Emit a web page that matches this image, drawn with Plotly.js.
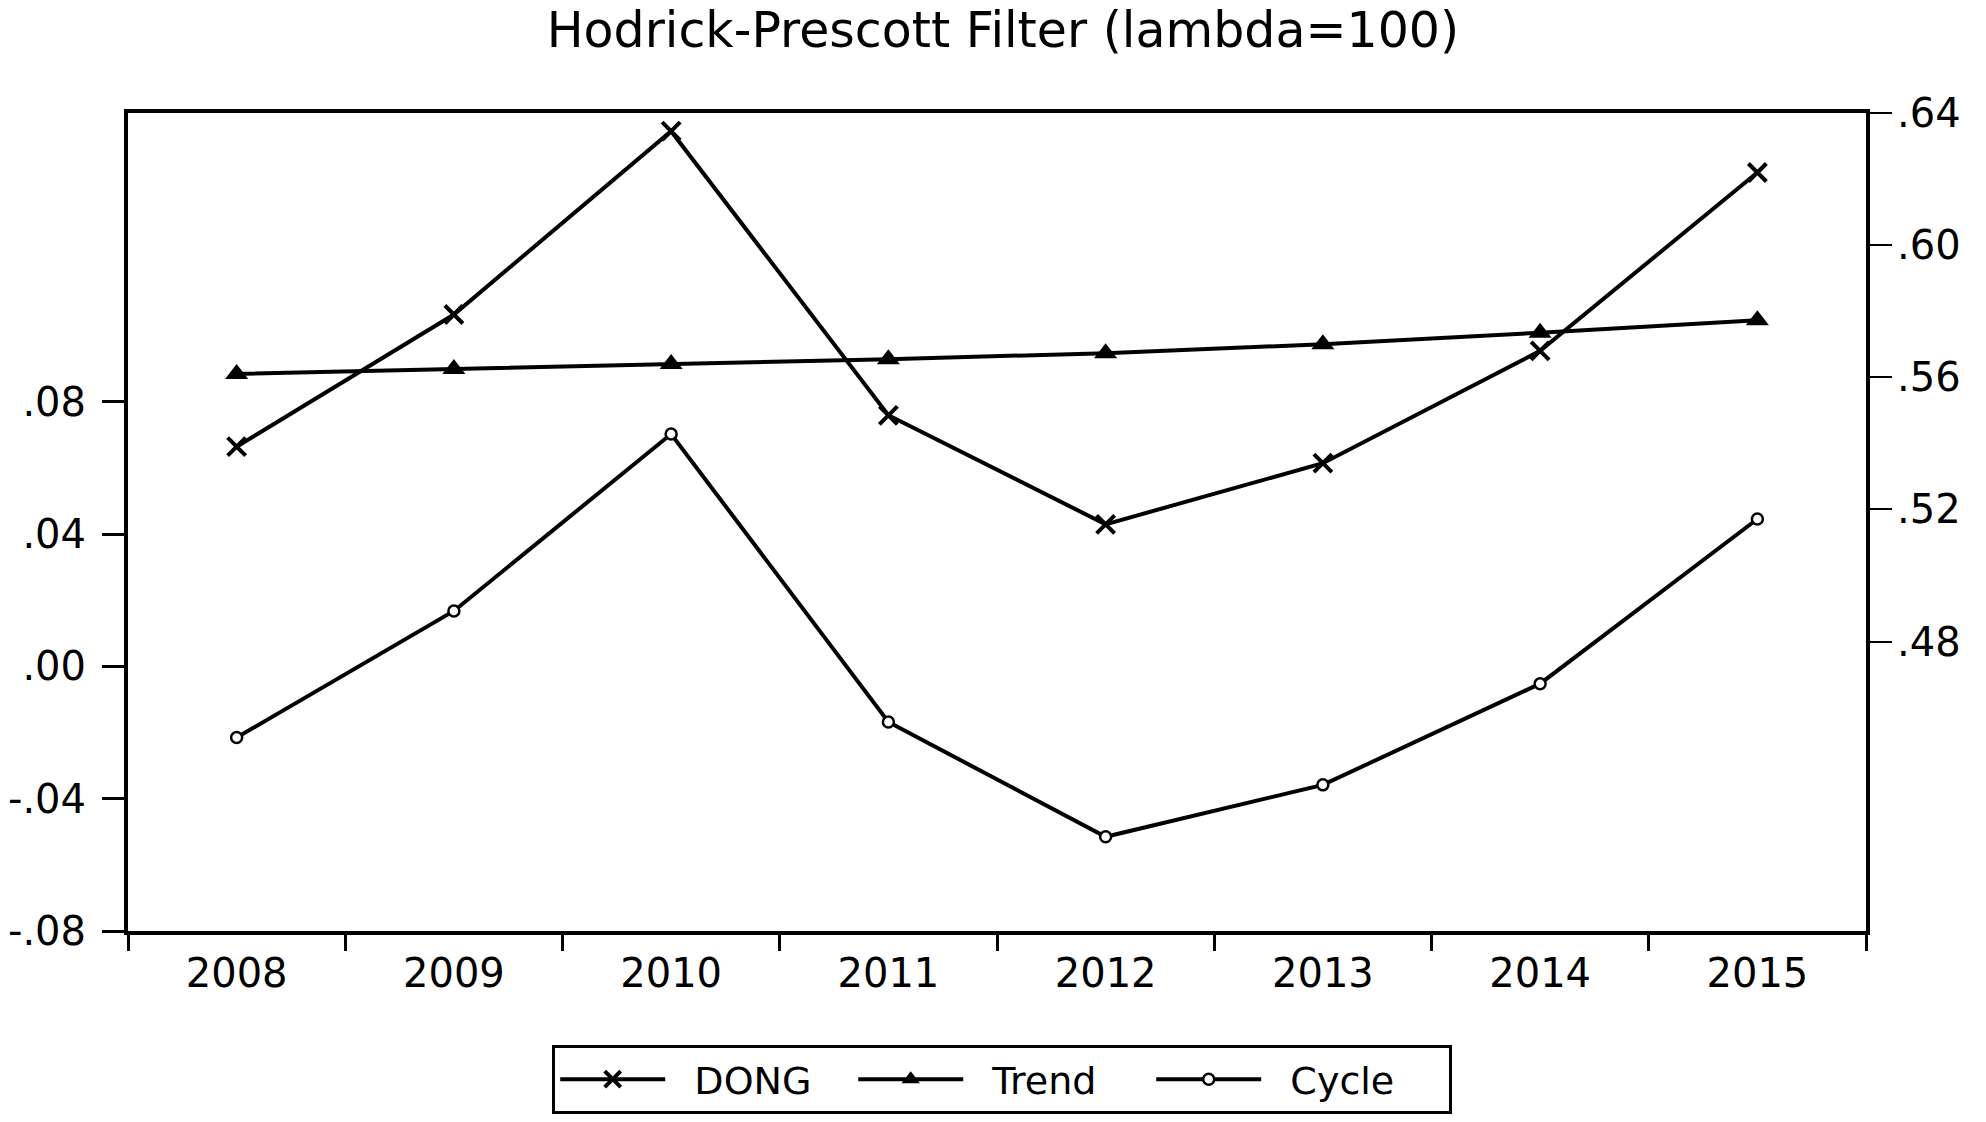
<!DOCTYPE html>
<html>
<head>
<meta charset="utf-8">
<script src="https://cdn.plot.ly/plotly-3.0.1.min.js"></script>
<style>
  html, body { margin: 0; padding: 0; background: #fff; }
  #chart { width: 1986px; height: 1122px; }
</style>
</head>
<body>
<div id="chart"></div>
<script>
const years = ["2008", "2009", "2010", "2011", "2012", "2013", "2014", "2015"];
const dong  = [0.539, 0.579, 0.6345, 0.5485, 0.5155, 0.534, 0.568, 0.622];
const trend = [0.561, 0.5625, 0.564, 0.5655, 0.5673, 0.570, 0.5735, 0.5773];
const cycle = [-0.0215, 0.0168, 0.0703, -0.0168, -0.0515, -0.0358, -0.0052, 0.0446];

const seriesNames = ["DONG", "Trend", "Cycle"];

const leftTickVals = [-0.08, -0.04, 0.00, 0.04, 0.08];
const leftTickText = ["-.08", "-.04", ".00", ".04", ".08"];
const rightTickVals = [0.48, 0.52, 0.56, 0.60, 0.64];
const rightTickText = [".48", ".52", ".56", ".60", ".64"];

const FONT = "DejaVu Sans, Liberation Sans, Arial, sans-serif";
const GAP = "\u00a0\u00a0";

const traces = [
  {
    x: years, y: dong, name: GAP + seriesNames[0], type: "scatter", mode: "lines+markers",
    yaxis: "y2",
    line: { color: "#000", width: 4 },
    marker: { symbol: "x-thin", size: 18, color: "#000", line: { color: "#000", width: 4 } }
  },
  {
    x: years, y: trend, name: GAP + seriesNames[1], type: "scatter", mode: "lines+markers",
    yaxis: "y2",
    line: { color: "#000", width: 4 },
    marker: { symbol: "triangle-up", size: 20, color: "#000", line: { width: 0 } }
  },
  {
    x: years, y: cycle, name: GAP + seriesNames[2], type: "scatter", mode: "lines+markers",
    yaxis: "y",
    line: { color: "#000", width: 4 },
    marker: { symbol: "circle", size: 11, color: "#fff", line: { color: "#000", width: 2.5 } }
  }
];

const layout = {
  width: 1986, height: 1122,
  paper_bgcolor: "#fff", plot_bgcolor: "#fff",
  margin: { l: 128, r: 120, t: 113, b: 191, autoexpand: false },
  font: { family: FONT, color: "#000", size: 40 },
  title: {
    text: "Hodrick-Prescott Filter (lambda=100)",
    font: { family: FONT, size: 49, color: "#000" },
    x: 0.505, xanchor: "center",
    y: 1 - 30 / 1122, yref: "container", yanchor: "middle"
  },
  showlegend: true,
  legend: {
    orientation: "h",
    x: 0.503, xanchor: "center",
    y: 1 - 1045 / 1122, yref: "container", yanchor: "top",
    bgcolor: "#fff", bordercolor: "#000", borderwidth: 3,
    font: { family: FONT, size: 38, color: "#000" },
    itemwidth: 105,
    entrywidth: 178,
    traceorder: "normal"
  },
  xaxis: {
    type: "category",
    range: [-0.5, 7.5],
    tickson: "boundaries",
    ticks: "outside", ticklen: 16, tickwidth: 3, tickcolor: "#000",
    showline: true, linecolor: "#000", linewidth: 4, mirror: true,
    showgrid: false, zeroline: false,
    tickfont: { family: FONT, size: 40, color: "#000" },
    ticklabelstandoff: 4
  },
  yaxis: {
    range: [-0.08, 0.1674],
    tickvals: leftTickVals, ticktext: leftTickText,
    ticks: "outside", ticklen: 22, tickwidth: 3, tickcolor: "#000",
    showline: true, linecolor: "#000", linewidth: 4,
    showgrid: false, zeroline: false,
    tickfont: { family: FONT, size: 40, color: "#000" },
    ticklabelstandoff: 8
  },
  yaxis2: {
    overlaying: "y", side: "right",
    range: [0.3924, 0.64],
    tickvals: rightTickVals, ticktext: rightTickText,
    ticks: "outside", ticklen: 22, tickwidth: 2, tickcolor: "#000",
    showline: true, linecolor: "#000", linewidth: 4,
    showgrid: false, zeroline: false,
    tickfont: { family: FONT, size: 40, color: "#000" },
    ticklabelstandoff: -3
  }
};

Plotly.newPlot("chart", traces, layout, { displayModeBar: false, staticPlot: true });
</script>
</body>
</html>
